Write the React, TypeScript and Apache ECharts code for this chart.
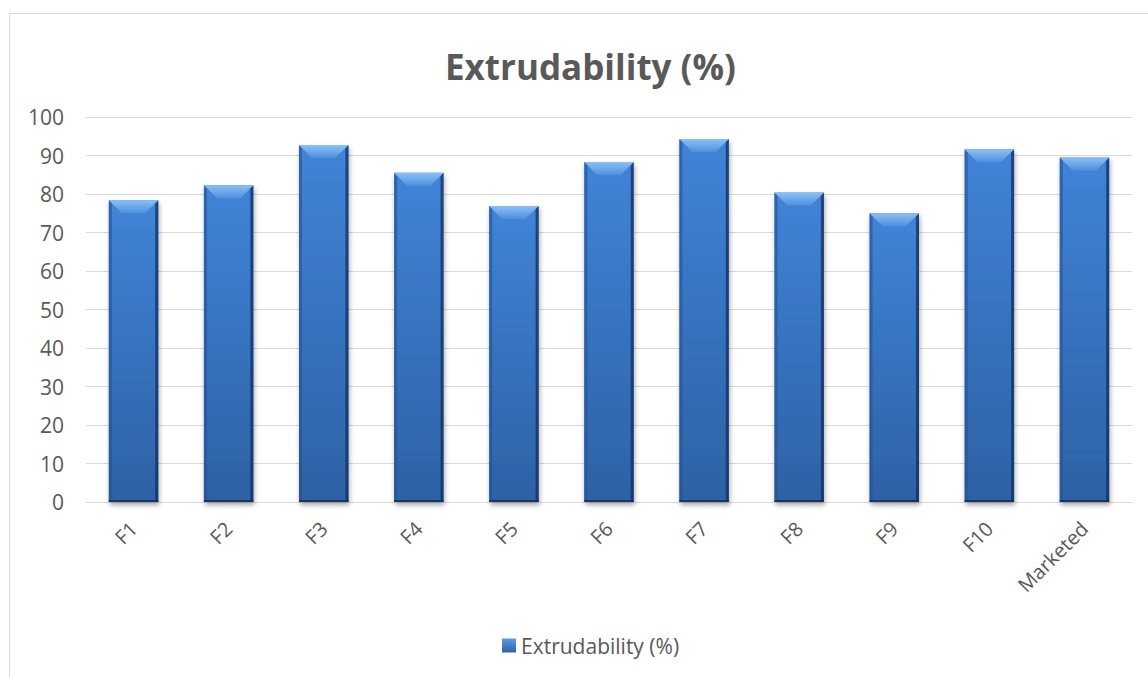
import React, { useEffect, useRef } from "react";
import * as echarts from "echarts";

// Extrudability of each formulation, in percent
const categories = ["F1", "F2", "F3", "F4", "F5", "F6", "F7", "F8", "F9", "F10", "Marketed"];
const extrudability = [78.4, 82.3, 92.7, 85.5, 76.9, 88.3, 94.3, 80.4, 75.0, 91.6, 89.5];
const yTicks = { min: 0, max: 100, interval: 10 };
const seriesName = "Extrudability (%)";

const TEXT = "#595959";
const FONT = "'Open Sans', 'Noto Sans', sans-serif";

// Bevelled bar: gradient body, darker side facets, light top facet
function bevelBar(params: any, api: any) {
  const idx = api.value(0);
  const val = api.value(1);
  const top = api.coord([idx, val]);
  const base = api.coord([idx, 0]);
  const band = api.size([1, 0])[0];
  const w = band * 0.52;
  const x0 = top[0] - w / 2;
  const x1 = top[0] + w / 2;
  const y0 = top[1];
  const y1 = base[1];
  const h = y1 - y0;
  const bh = Math.min(13, h / 2);
  const b = 13;
  const side = 3;
  return {
    type: "group",
    children: [
      {
        type: "rect",
        shape: { x: x0, y: y0, width: w, height: h },
        style: {
          fill: new echarts.graphic.LinearGradient(0, 0, 0, 1, [
            { offset: 0, color: "#4084D8" },
            { offset: 1, color: "#2D61A4" },
          ]),
          shadowBlur: 5,
          shadowOffsetX: 1,
          shadowOffsetY: 3,
          shadowColor: "rgba(0,0,0,0.35)",
        },
      },
      {
        type: "polygon",
        shape: { points: [[x0, y0], [x0 + side, y0 + side], [x0 + side, y1], [x0, y1]] },
        style: { fill: "rgba(35,80,145,0.6)" },
      },
      {
        type: "polygon",
        shape: { points: [[x1, y0], [x1 - side, y0 + side], [x1 - side, y1], [x1, y1]] },
        style: { fill: "rgba(18,45,95,0.75)" },
      },
      {
        type: "polygon",
        shape: { points: [[x0, y0], [x1, y0], [x1 - b, y0 + bh], [x0 + b, y0 + bh]] },
        style: {
          fill: new echarts.graphic.LinearGradient(0, 0, 0, 1, [
            { offset: 0, color: "#8CC0F3" },
            { offset: 1, color: "#4E90DE" },
          ]),
        },
      },
      {
        type: "rect",
        shape: { x: x0, y: y1 - 2, width: w, height: 2 },
        style: { fill: "rgba(20,45,85,0.8)" },
      },
    ],
  };
}

export default function App() {
  const ref = useRef<HTMLDivElement>(null);

  useEffect(() => {
    if (!ref.current) return;
    const chart = echarts.init(ref.current, undefined, { renderer: "svg" });
    chart.setOption({
      animation: false,
      backgroundColor: "#ffffff",
      textStyle: { fontFamily: FONT },
      title: {
        text: "Extrudability (%)",
        left: 440,
        top: 44,
        textStyle: { color: TEXT, fontSize: 35, fontWeight: "bold", fontFamily: FONT },
      },
      graphic: [
        {
          type: "rect",
          shape: { x: 9.5, y: 13.5, width: 1300, height: 800 },
          style: { fill: "none", stroke: "#d9d9d9", lineWidth: 1 },
          silent: true,
          z: -10,
        },
      ],
      legend: {
        bottom: 16,
        left: 497,
        itemWidth: 14,
        itemHeight: 14,
        itemGap: 5,
        icon: "rect",
        textStyle: { color: TEXT, fontSize: 21, fontFamily: FONT },
        data: [seriesName],
      },
      grid: { left: 86, right: 16, top: 117, bottom: 175 },
      xAxis: {
        type: "category",
        data: categories,
        axisLine: { show: true, lineStyle: { color: "#d9d9d9", width: 1 } },
        axisTick: { show: false },
        axisLabel: { rotate: 45, margin: 23, color: TEXT, fontSize: 20, fontFamily: FONT },
      },
      yAxis: {
        type: "value",
        min: yTicks.min,
        max: yTicks.max,
        interval: yTicks.interval,
        axisLine: { show: false },
        axisTick: { show: false },
        axisLabel: { margin: 22, color: TEXT, fontSize: 21, fontFamily: FONT },
        splitLine: { lineStyle: { color: "#d9d9d9", width: 1 } },
      },
      series: [
        {
          name: seriesName,
          type: "custom",
          renderItem: bevelBar,
          encode: { x: 0, y: 1 },
          itemStyle: {
            color: new echarts.graphic.LinearGradient(0, 0, 0, 1, [
              { offset: 0, color: "#5A9BE3" },
              { offset: 1, color: "#2F64A6" },
            ]),
          },
          data: extrudability.map((v, i) => [i, v]),
        },
      ],
    });
    return () => chart.dispose();
  }, []);

  return (
    <div
      ref={ref}
      style={{ position: "fixed", left: 0, top: 0, width: 1148, height: 677 }}
    />
  );
}
